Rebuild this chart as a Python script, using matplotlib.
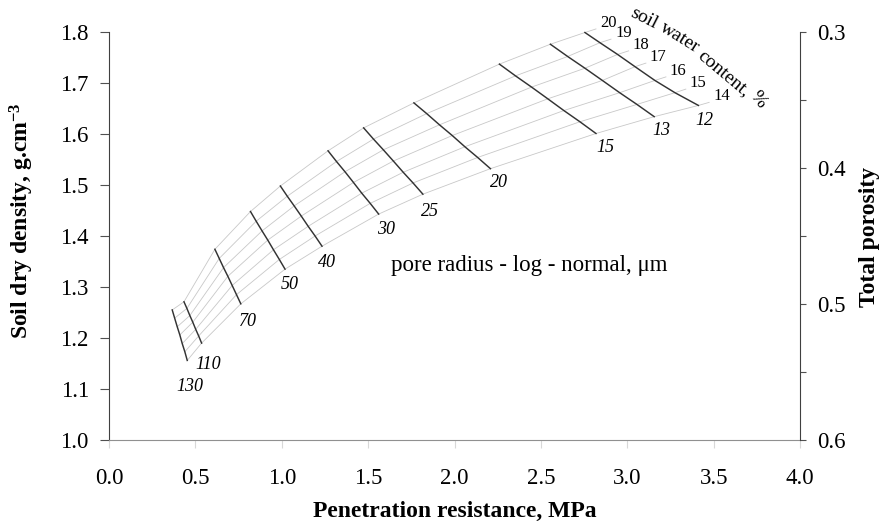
import matplotlib
matplotlib.use("Agg")
import matplotlib.pyplot as plt
from matplotlib.ticker import MultipleLocator

plt.rcParams['font.family'] = ['Liberation Serif', 'DejaVu Serif']
plt.rcParams['mathtext.default'] = 'regular'

# soil water content (%) of the grey lines, top to bottom
water = [20, 19, 18, 17, 16, 15, 14]
# pore radius (um) of the black lines, left to right
radius = [130, 110, 70, 50, 40, 30, 25, 20, 15, 13, 12]

# penetration resistance (MPa) / dry density (g/cm3) along each black line, water 20 -> 14
pen_130 = [0.366, 0.380, 0.395, 0.410, 0.424, 0.439, 0.453]
den_130 = [1.255, 1.239, 1.222, 1.206, 1.189, 1.173, 1.156]
pen_110 = [0.434, 0.451, 0.468, 0.485, 0.502, 0.519, 0.536]
den_110 = [1.271, 1.258, 1.244, 1.231, 1.217, 1.204, 1.190]
pen_70 = [0.613, 0.638, 0.663, 0.688, 0.713, 0.738, 0.763]
den_70 = [1.374, 1.356, 1.338, 1.321, 1.303, 1.285, 1.267]
pen_50 = [0.819, 0.852, 0.886, 0.919, 0.952, 0.986, 1.019]
den_50 = [1.448, 1.429, 1.410, 1.392, 1.373, 1.354, 1.335]
pen_40 = [0.992, 1.032, 1.072, 1.113, 1.153, 1.193, 1.233]
den_40 = [1.498, 1.478, 1.459, 1.439, 1.419, 1.400, 1.380]
pen_30 = [1.268, 1.317, 1.366, 1.415, 1.463, 1.512, 1.561]
den_30 = [1.567, 1.546, 1.526, 1.505, 1.484, 1.464, 1.443]
pen_25 = [1.474, 1.531, 1.588, 1.646, 1.703, 1.760, 1.817]
den_25 = [1.612, 1.590, 1.569, 1.547, 1.525, 1.504, 1.482]
pen_20 = [1.765, 1.839, 1.913, 1.987, 2.060, 2.134, 2.208]
den_20 = [1.661, 1.640, 1.618, 1.597, 1.575, 1.554, 1.532]
pen_15 = [2.260, 2.353, 2.446, 2.540, 2.633, 2.726, 2.819]
den_15 = [1.737, 1.714, 1.692, 1.669, 1.646, 1.624, 1.601]
pen_13 = [2.555, 2.655, 2.755, 2.856, 2.956, 3.056, 3.156]
den_13 = [1.776, 1.752, 1.729, 1.705, 1.681, 1.658, 1.634]
pen_12 = [2.755, 2.842, 2.944, 3.045, 3.160, 3.276, 3.412]
den_12 = [1.799, 1.779, 1.756, 1.732, 1.705, 1.681, 1.656]

# grey lines run a little past the 12 um line, to the water-content labels
end_pen = [2.819, 2.906, 3.008, 3.108, 3.224, 3.339, 3.474]
end_den = [1.806, 1.786, 1.763, 1.739, 1.712, 1.688, 1.662]

pens = [pen_130, pen_110, pen_70, pen_50, pen_40, pen_30, pen_25, pen_20, pen_15, pen_13, pen_12]
dens = [den_130, den_110, den_70, den_50, den_40, den_30, den_25, den_20, den_15, den_13, den_12]

# label offsets in pixels from the bottom end of each black line
rad_off = [(3, -26), (7, -21), (7, -18), (5, -15), (5, -16), (7, -15), (7, -17), (9, -14), (9, -14), (7, -14), (6, -15)]

# curved caption, one word at a time: (text, x px, y px, angle)
caption = [('soil', 644, 18, -27), ('water', 680, 38, -32), ('content,', 724, 73, -40), ('%', 758, 100, -52)]

fig = plt.figure(figsize=(8.88, 5.24), dpi=100)
ax = fig.add_axes([109 / 888, 1 - 440 / 524, 691 / 888, 408 / 524])

for j, w in enumerate(water):
    xs = [p[j] for p in pens] + [end_pen[j]]
    ys = [d[j] for d in dens] + [end_den[j]]
    ax.plot(xs, ys, color='#c8c8c8', lw=0.6, clip_on=False, zorder=1)
    ax.annotate(str(w), (end_pen[j], end_den[j]), xytext=(4, 6), textcoords='offset pixels',
                ha='left', va='center', fontsize=12, annotation_clip=False)

for i, r in enumerate(radius):
    ax.plot(pens[i], dens[i], color='#333333', lw=1.05, zorder=2, clip_on=False)
    ax.annotate(str(r), (pens[i][-1], dens[i][-1]), xytext=rad_off[i], textcoords='offset pixels',
                ha='center', va='center', fontsize=13, style='italic')

ax.set_xlim(0, 4)
ax.set_ylim(1.0, 1.8)
ax.xaxis.set_major_locator(MultipleLocator(0.5))
ax.yaxis.set_major_locator(MultipleLocator(0.1))
ax.xaxis.set_major_formatter(matplotlib.ticker.FormatStrFormatter('%.1f'))
ax.yaxis.set_major_formatter(matplotlib.ticker.FormatStrFormatter('%.1f'))
ax.tick_params(axis='x', direction='out', length=6, width=0.8, color='#d8d8d8', labelsize=16.5, pad=14)
ax.tick_params(axis='y', direction='out', length=6.5, width=0.8, color='#505050', labelsize=16.5, pad=8)
ax.spines['top'].set_visible(False)
ax.spines['right'].set_visible(False)
ax.spines['left'].set_color('#404040')
ax.spines['bottom'].set_color('#909090')

ax2 = ax.twinx()
ax2.set_ylim(0.6, 0.3)
ax2.yaxis.set_major_locator(MultipleLocator(0.1))
ax2.yaxis.set_minor_locator(MultipleLocator(0.05))
ax2.yaxis.set_major_formatter(matplotlib.ticker.FormatStrFormatter('%.1f'))
ax2.tick_params(axis='y', which='both', direction='out', length=4, width=0.8, color='#505050', labelsize=16.5, pad=8)
for s in ['top', 'left', 'bottom']:
    ax2.spines[s].set_visible(False)
ax2.spines['right'].set_color('#404040')

fig.text(455 / 888, 1 - 511 / 524, 'Penetration resistance, MPa', ha='center', va='center',
         fontsize=17, fontweight='bold')
fig.text(22 / 888, 1 - 221 / 524, 'Soil dry density, g.cm$^{-3}$', ha='center', va='center',
         rotation=90, fontsize=17, fontweight='bold')
fig.text(869 / 888, 1 - 237 / 524, 'Total porosity', ha='center', va='center',
         rotation=90, fontsize=17, fontweight='bold')
fig.text(529 / 888, 1 - 266 / 524, 'pore radius - log - normal, μm', ha='center', va='center',
         fontsize=16.5)
for word, px, py, ang in caption:
    fig.text(px / 888, 1 - py / 524, word, ha='center', va='center', rotation=ang,
             rotation_mode='anchor', fontsize=14)

fig.savefig('out.png', dpi=100)
